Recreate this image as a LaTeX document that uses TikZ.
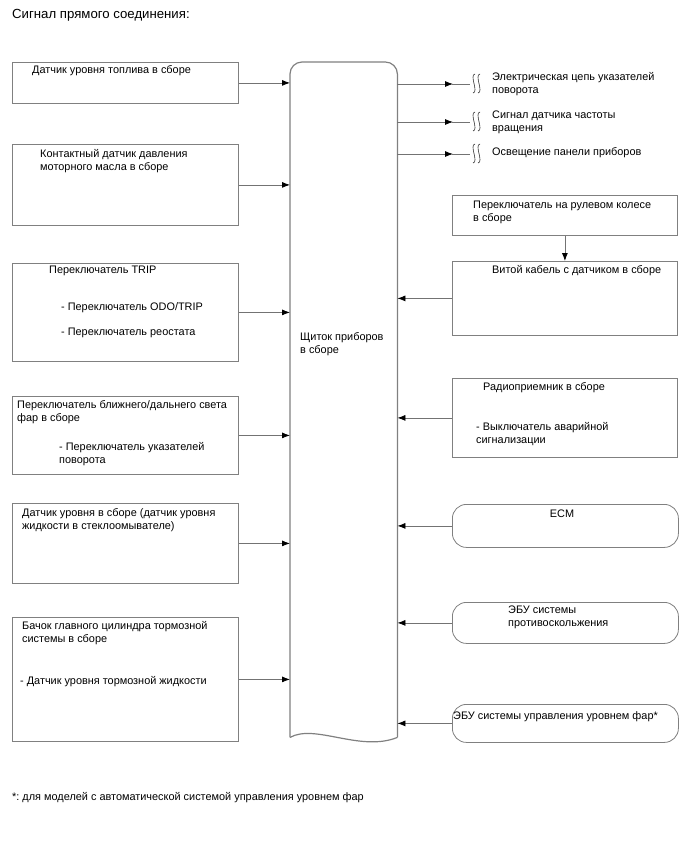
\documentclass[tikz,border=0pt]{standalone}
\usepackage{fontspec}
\setmainfont{Liberation Sans}
\usepackage{xcolor}
\usepackage{tikz}
\usetikzlibrary{arrows.meta,positioning,calc}
\frenchspacing

\definecolor{boxgray}{gray}{0.5}
\definecolor{linegray}{gray}{0.45}

\begin{document}
\begin{tikzpicture}[x=1pt, y=-1pt, font=\fontsize{10.9}{13.5}\selectfont,
  box/.style={draw=boxgray, line width=0.8pt, anchor=north west, minimum width=226pt, inner sep=0pt},
  rbox/.style={box, rounded corners=14pt},
  lbl/.style={anchor=base west, inner sep=0pt, align=left},
  link/.style={draw=linegray, line width=0.8pt},
  arr/.style={link, -{Latex[length=8pt,width=6pt,color=black]}}]
\useasboundingbox (0,0) rectangle (688,852);

% header and footnote
\node[lbl, font=\fontsize{13.2}{16}\selectfont] (title) at (12,18) {Сигнал прямого соединения:};
\node[lbl] (note) at (12,800) {*: для моделей с автоматической системой управления уровнем фар};

% combination meter in the middle
\node[anchor=north west, minimum width=107pt, minimum height=675pt, inner sep=0pt] (panel) at (290,62) {};
\draw[draw=boxgray, line width=1.2pt, rounded corners=12pt] (panel.south west) -- (panel.north west) -- (panel.north east) -- (panel.south east);
\draw[draw=boxgray, line width=1.2pt] (panel.south west) .. controls +(25,-14) and +(-37,15) .. (panel.south east);
\node[lbl] (paneltxt) at (300,353.5) {Щиток приборов\\в сборе};

% inputs on the left (multi-line labels sit on their last line)
\node[box, minimum height=41pt] (fuel) at (12,62) {};
\node[lbl] at (32,73) {Датчик уровня топлива в сборе};
\node[box, minimum height=81pt] (oil) at (12,144) {};
\node[lbl] at (40,170.5) {Контактный датчик давления\\моторного масла в сборе};
\node[box, minimum height=98pt] (trip) at (12,263) {};
\node[lbl] at (49,273) {Переключатель TRIP};
\node[lbl] at (61,310) {- Переключатель ODO/TRIP};
\node[lbl] at (61,335) {- Переключатель реостата};
\node[box, minimum height=78pt] (beam) at (12,396) {};
\node[lbl] at (17,421.5) {Переключатель ближнего/дальнего света\\фар в сборе};
\node[lbl] at (59,463.5) {- Переключатель указателей\\поворота};
\node[box, minimum height=80pt] (washer) at (12,503) {};
\node[lbl] at (22,529.5) {Датчик уровня в сборе (датчик уровня\\жидкости в стеклоомывателе)};
\node[box, minimum height=124pt] (brake) at (12,617) {};
\node[lbl] at (22,642.5) {Бачок главного цилиндра тормозной\\системы в сборе};
\node[lbl] at (20,684) {- Датчик уровня тормозной жидкости};

\foreach \src in {fuel,oil,trip,beam,washer,brake}
  \draw[arr] (\src.east) -- (\src.east -| panel.west);

% outputs with break marks
\coordinate (out1) at (476,84);
\coordinate (out2) at (476,122);
\coordinate (out3) at (476,154);
\foreach \i in {1,2,3} {
  \draw[arr] (panel.east |- out\i) -- ($(out\i)+(-23,0)$);
  \draw[link] ($(out\i)+(-24,0)$) -- ($(out\i)+(-6,0)$);
  \draw[black!80, line width=0.6pt] ($(out\i)+(-1,-10)$) .. controls +(-6,1) and +(6,-1) .. ($(out\i)+(-3,9)$)
    ($(out\i)+(4,-10)$) .. controls +(-6,1) and +(6,-1) .. ($(out\i)+(2,9)$);
}
\node[lbl] (turn) at (492,93.5) {Электрическая цепь указателей\\поворота};
\node[lbl] (speed) at (492,131.5) {Сигнал датчика частоты\\вращения};
\node[lbl] (illum) at (492,155) {Освещение панели приборов};

% inputs on the right
\node[box, minimum width=225pt, minimum height=40pt] (wheel) at (452,195) {};
\node[lbl] at (473,221.5) {Переключатель на рулевом колесе\\в сборе};
\node[box, minimum width=225pt, minimum height=74pt] (spiral) at (452,261) {};
\node[lbl] at (492,273) {Витой кабель с датчиком в сборе};
\node[box, minimum width=225pt, minimum height=79pt] (radio) at (452,378) {};
\node[lbl] at (483,390) {Радиоприемник в сборе};
\node[lbl] at (476,443.5) {- Выключатель аварийной\\сигнализации};
\node[rbox, minimum height=43pt] (ecm) at (452,504) {};
\node[anchor=base, inner sep=0pt] at (562,517) {ECM};
\node[rbox, minimum height=41pt] (skid) at (452,602) {};
\node[lbl] at (508,626.5) {ЭБУ системы\\противоскольжения};
\node[rbox, minimum height=38pt] (hlc) at (452,704) {};
\node[lbl] at (453,719) {ЭБУ системы управления уровнем фар*};

\draw[arr] (wheel.south) -- (spiral.north);
\foreach \src in {spiral,radio,ecm,skid,hlc}
  \draw[arr] (\src.west) -- (\src.west -| panel.east);
\end{tikzpicture}
\end{document}
